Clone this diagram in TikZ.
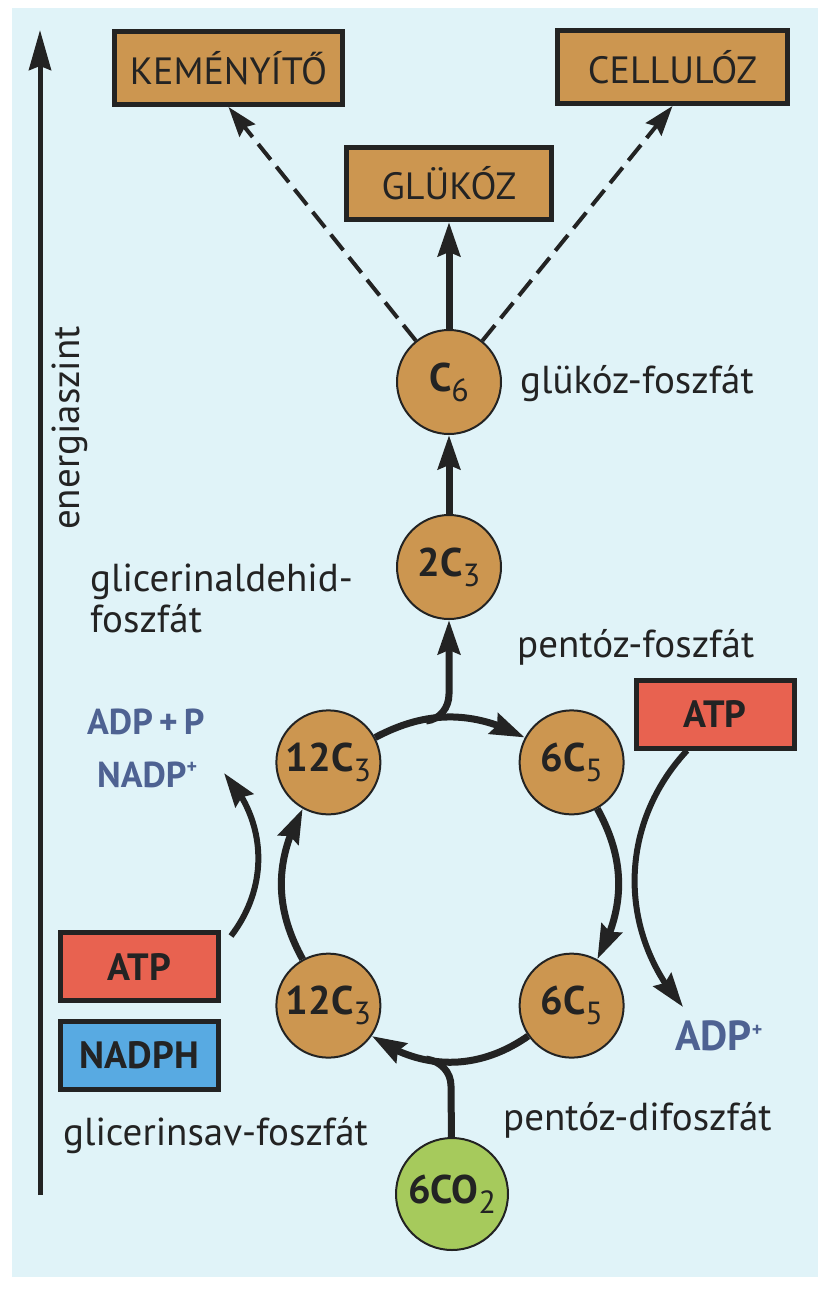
\documentclass[tikz,border=0pt]{standalone}
\usepackage{fontspec}
\setmainfont{PT Sans}
\usetikzlibrary{arrows.meta,positioning,calc,bending}
\definecolor{panel}{RGB}{224,243,248}
\definecolor{tanfill}{RGB}{204,150,80}
\definecolor{atpred}{RGB}{232,98,80}
\definecolor{nadblue}{RGB}{88,170,226}
\definecolor{co2green}{RGB}{166,202,92}
\definecolor{coftext}{RGB}{78,98,146}
\definecolor{ink}{RGB}{35,35,35}
\tikzset{
  prod/.style  ={draw=ink,line width=5pt,fill=tanfill,inner sep=0pt,
                 font=\fontsize{38}{40}\selectfont,text=ink},
  cofac/.style ={draw=ink,line width=5pt,inner sep=0pt,minimum width=158pt,
                 minimum height=68pt,font=\fontsize{38}{40}\selectfont\bfseries,text=ink},
  mol/.style   ={circle,draw=ink,line width=2pt,fill=tanfill,inner sep=0pt,
                 minimum size=104pt,font=\fontsize{40}{42}\selectfont\bfseries,text=ink},
  lbl/.style   ={inner sep=0pt,font=\fontsize{39}{41}\selectfont,text=ink,align=left},
  cof/.style   ={inner sep=0pt,font=\fontsize{36}{40}\selectfont\bfseries,text=coftext},
  flow/.style  ={draw=ink,line width=7pt,-{Stealth[length=34pt,width=22pt,inset=4pt,flex]}},
  ringline/.style={draw=ink,line width=7pt},
  dflow/.style ={draw=ink,line width=4pt,dash pattern=on 20pt off 9pt,
                 -{Stealth[length=30pt,width=20pt,inset=4pt]}},
  side/.style  ={draw=ink,line width=6pt,-{Stealth[length=34pt,width=22pt,inset=4pt,flex]}},
  axis/.style  ={draw=ink,line width=5pt,-{Stealth[length=40pt,width=22pt,inset=4pt]}},
}
\newcommand{\csub}[1]{\raisebox{-10pt}{\fontsize{32}{32}\selectfont\mdseries #1}}
\newcommand{\csup}[1]{\raisebox{14pt}{\fontsize{20}{20}\selectfont #1}}

\begin{document}
\begin{tikzpicture}[x=1pt,y=1pt]
\useasboundingbox (0,0) rectangle (827,-1295);
\fill[panel] (12,-8) rectangle (818,-1277);
% energy axis
\coordinate (e0) at (40,-1195);
\coordinate (e1) at (40,-30);
\draw[axis] (e0) -- (e1);
\node[lbl,rotate=90] (en) at (70,-428) {energiaszint};
% end products
\node[prod,minimum width=228pt,minimum height=73pt] (kem) at (228.5,-68) {KEMÉNYÍTŐ};
\node[prod,minimum width=230pt,minimum height=73pt] (cel) at (672.5,-67) {CELLULÓZ};
\node[prod,minimum width=205pt,minimum height=72pt] (glu) at (449,-183.5) {GLÜKÓZ};
% molecules
\node[mol] (c6) at (449,-382) {C\csub{6}};
\node[mol] (c2) at (449,-567) {2C\csub{3}};
\coordinate (ctr) at (450,-884);
\node[mol] (c12a) at ($(ctr)+(135:172)$) {12C\csub{3}};
\node[mol] (c5a) at ($(ctr)+(45:172)$) {6C\csub{5}};
\node[mol] (c5b) at ($(ctr)+(-45:172)$) {6C\csub{5}};
\node[mol] (c12b) at ($(ctr)+(-135:172)$) {12C\csub{3}};
\node[mol,fill=co2green,minimum size=112pt] (co2) at (452,-1194) {6CO\csub{2}};
\coordinate (rjt) at (426,-721);
\coordinate (rup) at (449,-694);
\coordinate (rjb) at (426,-1059);
\coordinate (rdn) at (451,-1086);
% cofactors
\node[cofac,fill=atpred] (atpR) at (715,-714) {ATP};
\node[cofac,fill=atpred] (atpL) at (139.5,-966.5) {ATP};
\node[cofac,fill=nadblue] (nadph) at (139.5,-1055) {NADPH};
% labels
\node[lbl,anchor=base west] (gf) at (520,-393) {glükóz-foszfát};
\node[lbl,anchor=base west] (gaf) at (90,-632) {glicerinaldehid-\\foszfát};
\node[cof,anchor=base west] (adpp) at (87,-734) {ADP\,+\,P};
\node[cof,anchor=base west] (nadp) at (97,-787) {NADP\csup{+}};
\node[lbl,anchor=base west] (pf) at (517,-657) {pentóz-foszfát};
\node[cof,anchor=base west,font=\fontsize{42}{44}\selectfont\bfseries] (adpr) at (675,-1050) {ADP\csup{+}};
\node[lbl,anchor=base west] (pdf) at (503,-1130) {pentóz-difoszfát};
\node[lbl,anchor=base west] (gsf) at (63,-1145) {glicerinsav-foszfát};
% arrows
\draw[flow] (c2) -- (c6);
\draw[flow] (c6) -- (glu);
\draw[dflow] (c6) -- (kem.south);
\draw[dflow] (c6) -- (cel.south);
\draw[flow] (c12a) to[bend left=28] (c5a);
\draw[flow] (c5a) to[bend left=29] (c5b);
\draw[flow] (c5b) to[bend left=35] (c12b);
\draw[flow] (c12b) to[bend left=29] (c12a);
\draw[flow] (rjt) to[out=6,in=-90] (rup) -- (c2);
\draw[ringline] (co2) -- (rdn) to[out=90,in=-8] (rjb);
\coordinate (tL) at (224,-773);
\coordinate (tR) at (683,-1007);
\draw[side] ([shift={(10pt,-6pt)}]atpL.north east) to[bend right=40] (tL);
\draw[side] ([xshift=-28pt]atpR.south) to[bend right=42] (tR);
\end{tikzpicture}
\end{document}
